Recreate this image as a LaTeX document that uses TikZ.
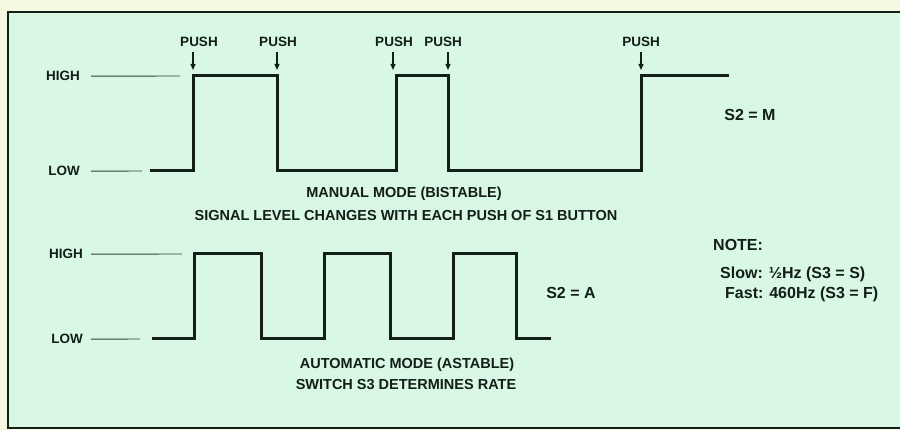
\documentclass[tikz,border=0pt]{standalone}
\usepackage{fontspec}
\setmainfont{Liberation Sans}
\usetikzlibrary{arrows.meta,positioning}
\definecolor{paperbg}{RGB}{246,249,226}
\definecolor{panelbg}{RGB}{216,247,228}
\definecolor{inkdark}{RGB}{18,30,22}

\begin{document}
\begin{tikzpicture}[
 x=1pt, y=-1pt,
 level/.style={font=\fontsize{13.5}{13.5}\selectfont\bfseries, text=inkdark, anchor=base east, inner sep=0pt},
 push/.style={font=\fontsize{13.5}{13.5}\selectfont\bfseries, text=inkdark, anchor=base, inner sep=0pt},
 caption/.style={font=\fontsize{14.5}{14.5}\selectfont\bfseries, text=inkdark, anchor=base, inner sep=0pt},
 setting/.style={font=\fontsize{16}{16}\selectfont\bfseries, text=inkdark, anchor=base, inner sep=0pt},
 note/.style={font=\fontsize{16}{16}\selectfont\bfseries, text=inkdark, anchor=base west, inner sep=0pt},
 wave/.style={line width=3pt, draw=inkdark, line join=miter},
 guide/.style={line width=0.9pt, draw=inkdark!85},
 pusharrow/.style={-{Triangle[length=6pt,width=5pt]}, line width=1.2pt, draw=inkdark}
]

% Paper and panel
\useasboundingbox (0,0) rectangle (900,430);
\fill[paperbg] (0,0) rectangle (900,430);
\draw[line width=2.5pt, draw=inkdark, fill=panelbg] (8,12) rectangle (906,428);

% Manual mode: levels
\node[level] (hiA) at (80,81) {HIGH};
\node[level] (loA) at (80,176) {LOW};
\coordinate (hiAend) at (180,76);
\coordinate (loAend) at (142,171);
\draw[guide] ([xshift=11pt,yshift=4.8pt]hiA.base east) -- (hiAend);
\draw[guide] ([xshift=11pt,yshift=4.8pt]loA.base east) -- (loAend);

% Manual mode: waveform
\draw[wave] (150,171) -| (193,76) -| (277,171) -| (396,76) -| (448,171) -| (641,76) -- (729,76);

% Push labels and arrows
\node[push] (pushA) at (199,47) {PUSH};
\node[push] (pushB) at (278,47) {PUSH};
\node[push] (pushC) at (394,47) {PUSH};
\node[push] (pushD) at (443,47) {PUSH};
\node[push] (pushE) at (641,47) {PUSH};
\coordinate (edgeA) at (193,70);
\coordinate (edgeB) at (277,70);
\coordinate (edgeC) at (393,70);
\coordinate (edgeD) at (448,70);
\coordinate (edgeE) at (641,70);
\foreach \p/\e in {pushA/edgeA, pushB/edgeB, pushC/edgeC, pushD/edgeD, pushE/edgeE}
 \draw[pusharrow] ([yshift=-5pt]\p.south -| \e) -- (\e);

\node[setting] (modeM) at (750,121) {S2 = M};
\node[caption] (capA) at (404,198) {MANUAL MODE (BISTABLE)};
\node[caption] (capB) at (406,221) {SIGNAL LEVEL CHANGES WITH EACH PUSH OF S1 BUTTON};

% Automatic mode: levels
\node[level] (hiB) at (83,259) {HIGH};
\node[level] (loB) at (83,344) {LOW};
\coordinate (hiBend) at (182,254);
\coordinate (loBend) at (140,339);
\draw[guide] ([xshift=8pt,yshift=4.8pt]hiB.base east) -- (hiBend);
\draw[guide] ([xshift=8pt,yshift=4.8pt]loB.base east) -- (loBend);

% Automatic mode: waveform
\draw[wave] (152,339) -| (194,254) -| (261,339) -| (324,254) -| (390,339) -| (453,254) -| (516,339) -- (551,339);

\node[setting] (modeA) at (571,299) {S2 = A};
\node[caption] (capC) at (407,369) {AUTOMATIC MODE (ASTABLE)};
\node[caption] (capD) at (406,390) {SWITCH S3 DETERMINES RATE};

% Note
\node[note] (noteT) at (713,251) {NOTE:};
\node[note] (noteS) at (720,279) {Slow: ½Hz (S3 = S)};
\node[note] (noteF) at (725,299) {Fast: 460Hz (S3 = F)};

\end{tikzpicture}
\end{document}
